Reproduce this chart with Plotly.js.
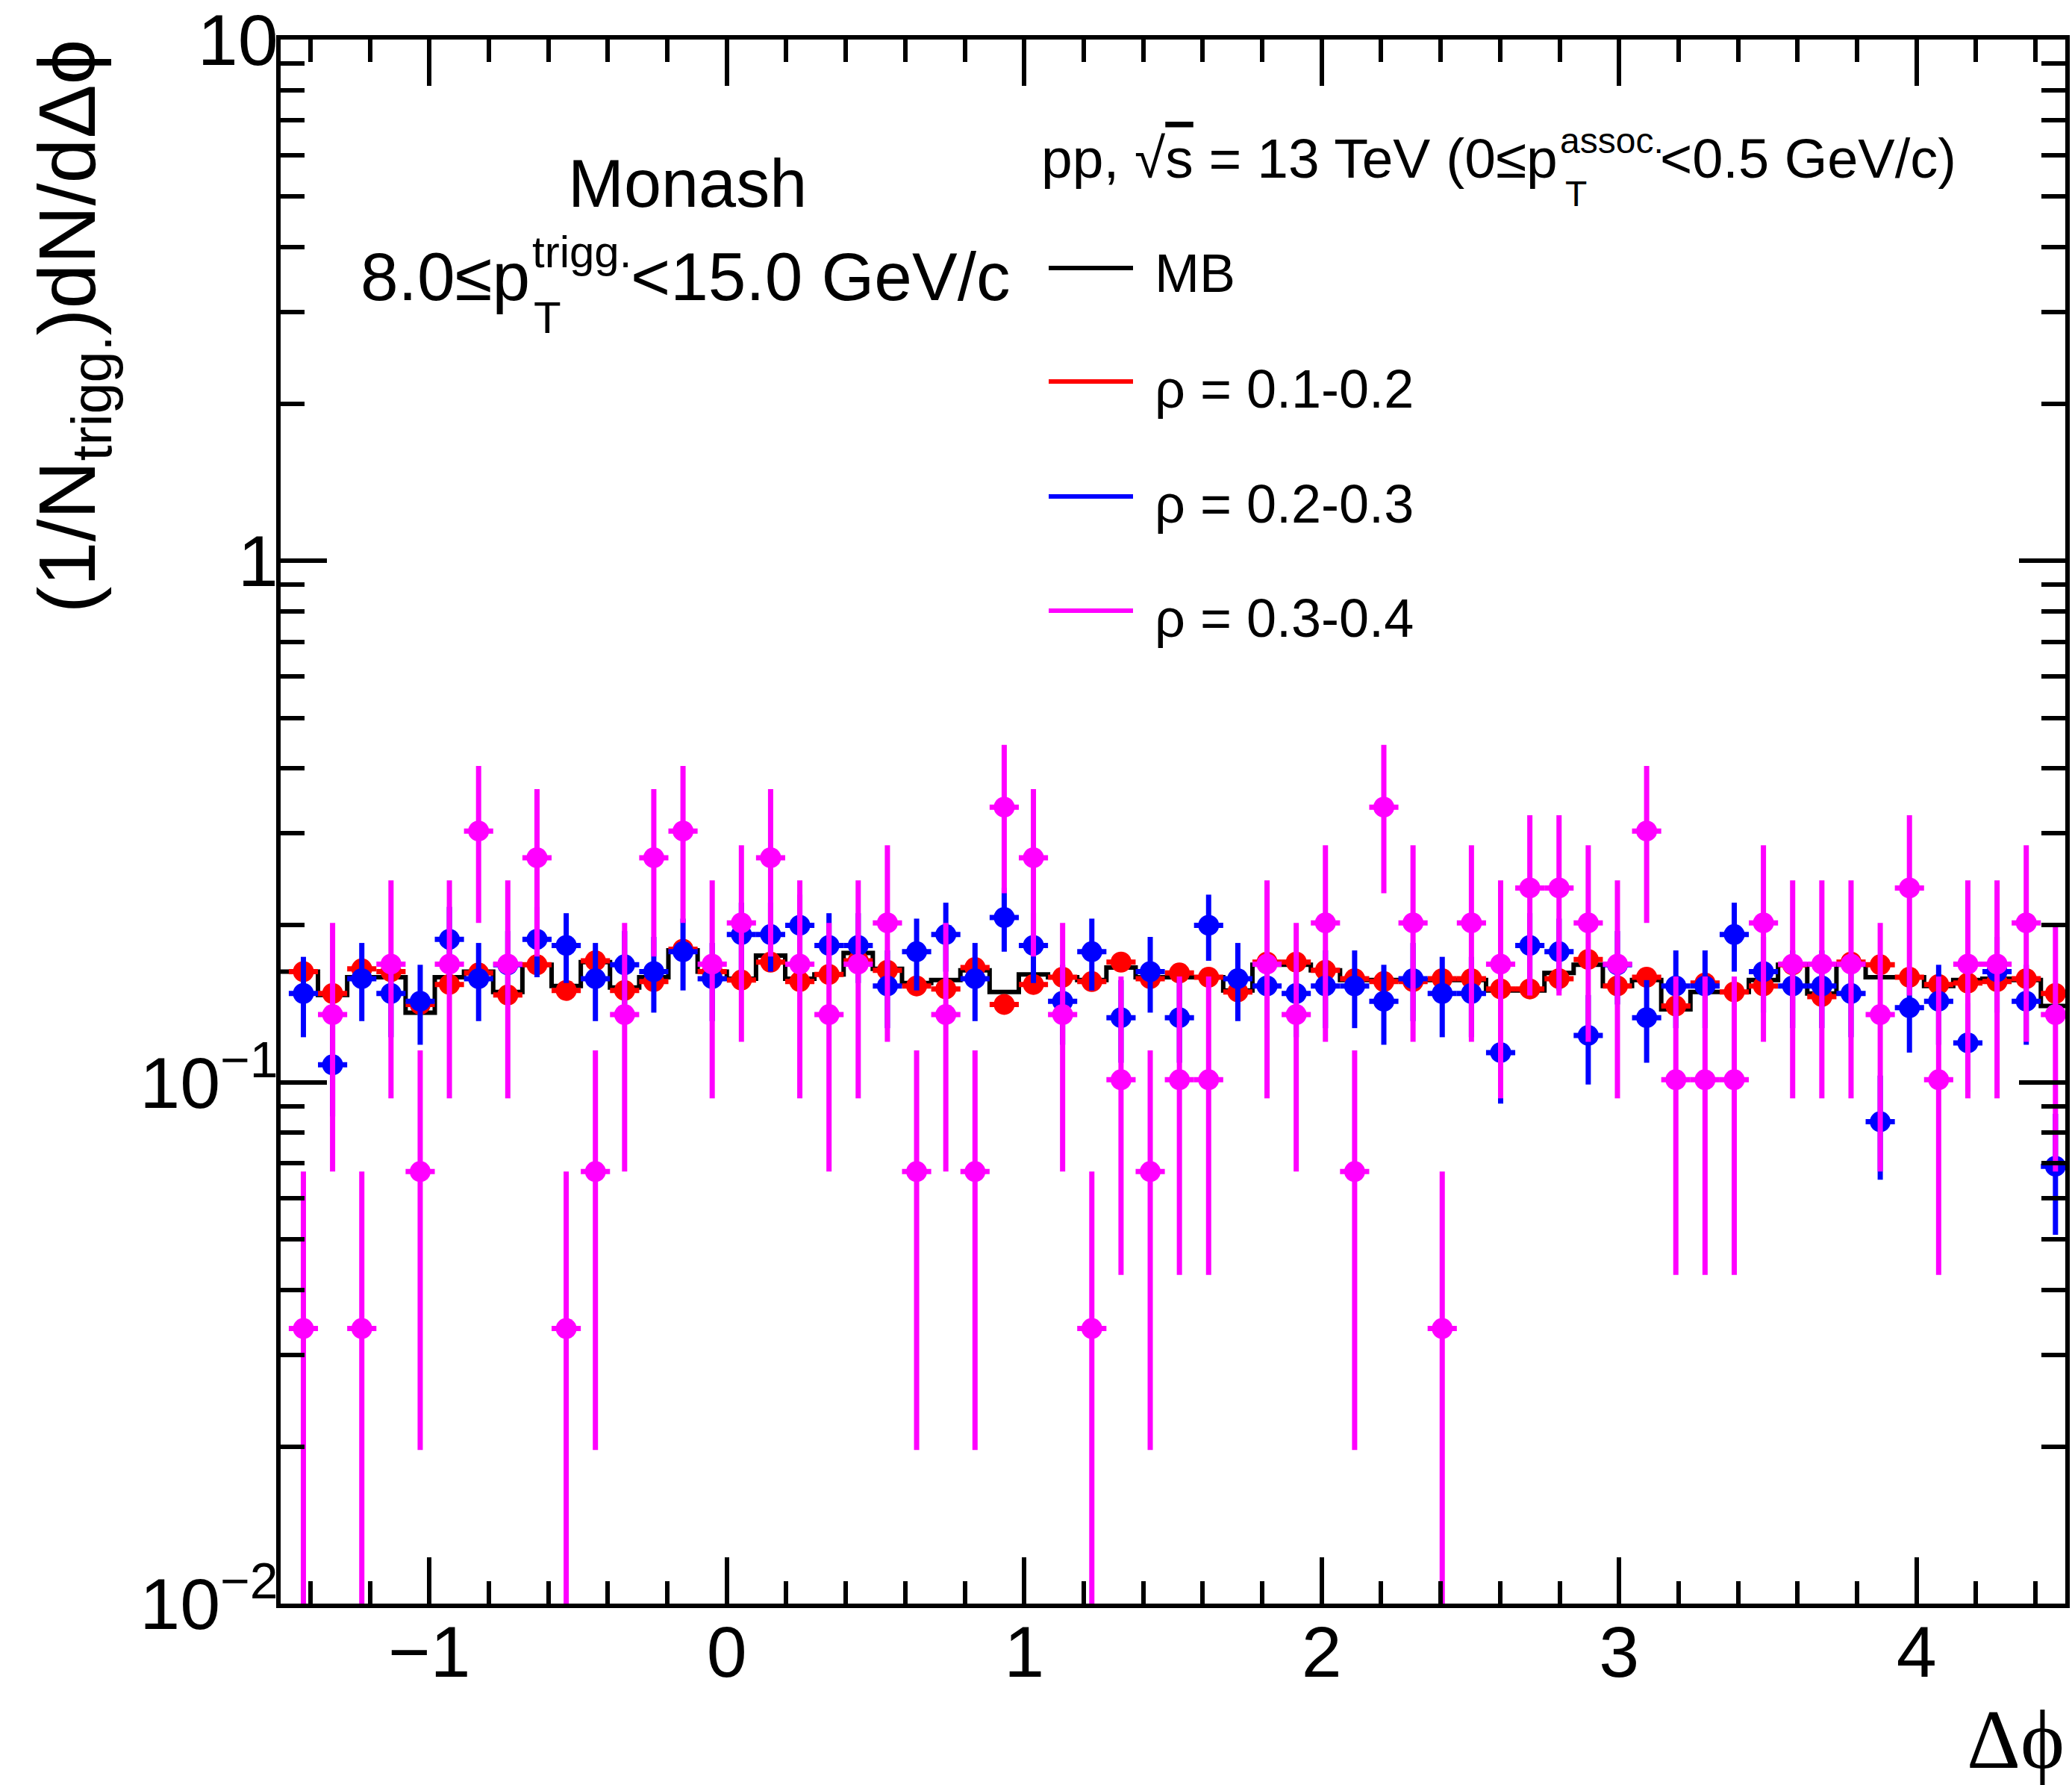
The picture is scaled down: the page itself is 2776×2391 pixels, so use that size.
<!DOCTYPE html>
<html>
<head>
<meta charset="utf-8">
<script src="https://cdn.plot.ly/plotly-3.0.1.min.js"></script>
<style>
html,body{margin:0;padding:0;background:#ffffff;}
#chart{width:2776px;height:2391px;}
</style>
</head>
<body>
<div id="chart"></div>
<script>
// ---------------- binning (64 bins over [-pi/2, 3pi/2]) ----------------
const nBins = 64;
const phiMin = -Math.PI / 2;
const binWidth = 2 * Math.PI / nBins;
const firstVisibleBin = 1;     // point series start at bin 1
const mbFirstBin = 0;          // MB histogram starts at bin 0

// ---------------- data ----------------
// MB histogram, bins 0..61
const mbValues = [
  0.163, 0.163, 0.147, 0.159, 0.159, 0.136, 0.159, 0.163, 0.149, 0.168,
  0.153, 0.170, 0.152, 0.159, 0.179, 0.163, 0.158, 0.175, 0.158, 0.161,
  0.177, 0.165, 0.155, 0.157, 0.164, 0.149, 0.161, 0.159, 0.157, 0.166,
  0.159, 0.159, 0.159, 0.150, 0.168, 0.168, 0.164, 0.157, 0.157, 0.157,
  0.157, 0.157, 0.150, 0.150, 0.162, 0.168, 0.153, 0.157, 0.138, 0.149,
  0.149, 0.157, 0.168, 0.148, 0.168, 0.159, 0.159, 0.153, 0.157, 0.158,
  0.157, 0.140
];

// rho = 0.1-0.2, bins 1..61
const rho12Values = [
  0.163, 0.148, 0.165, 0.163, 0.141, 0.154, 0.162, 0.147, 0.168, 0.150,
  0.171, 0.150, 0.156, 0.180, 0.163, 0.157, 0.170, 0.156, 0.161, 0.171,
  0.164, 0.153, 0.151, 0.166, 0.141, 0.154, 0.159, 0.156, 0.170, 0.158,
  0.162, 0.159, 0.149, 0.170, 0.170, 0.164, 0.158, 0.156, 0.156, 0.158,
  0.158, 0.151, 0.151, 0.158, 0.172, 0.153, 0.159, 0.140, 0.155, 0.149,
  0.153, 0.168, 0.146, 0.170, 0.168, 0.159, 0.154, 0.155, 0.156, 0.158,
  0.148
];
const rho12Errors = [
  0.006, 0.006, 0.006, 0.006, 0.006, 0.006, 0.006, 0.006, 0.006, 0.006,
  0.006, 0.006, 0.006, 0.006, 0.006, 0.006, 0.006, 0.006, 0.006, 0.006,
  0.006, 0.006, 0.006, 0.006, 0.006, 0.006, 0.006, 0.006, 0.006, 0.006,
  0.006, 0.006, 0.006, 0.006, 0.006, 0.006, 0.006, 0.006, 0.006, 0.006,
  0.006, 0.006, 0.006, 0.006, 0.006, 0.006, 0.006, 0.006, 0.006, 0.006,
  0.006, 0.006, 0.006, 0.006, 0.006, 0.006, 0.006, 0.006, 0.006, 0.006,
  0.006
];

// rho = 0.2-0.3, bins 1..61
const rho23Values = [
  0.148, 0.108, 0.158, 0.148, 0.143, 0.188, 0.158, 0.168, 0.188, 0.183,
  0.158, 0.168, 0.163, 0.178, 0.158, 0.192, 0.192, 0.200, 0.183, 0.183,
  0.153, 0.178, 0.192, 0.158, 0.207, 0.183, 0.143, 0.178, 0.133, 0.163,
  0.133, 0.200, 0.158, 0.153, 0.148, 0.153, 0.153, 0.143, 0.158, 0.148,
  0.148, 0.114, 0.183, 0.178, 0.123, 0.168, 0.133, 0.153, 0.153, 0.192,
  0.163, 0.153, 0.153, 0.148, 0.084, 0.139, 0.143, 0.119, 0.163, 0.143,
  0.069
];
const rho23Errors = [
  0.026, 0.022, 0.027, 0.026, 0.025, 0.029, 0.027, 0.027, 0.029, 0.028,
  0.027, 0.027, 0.027, 0.028, 0.027, 0.029, 0.029, 0.029, 0.028, 0.028,
  0.026, 0.028, 0.029, 0.027, 0.029, 0.028, 0.025, 0.028, 0.024, 0.027,
  0.024, 0.029, 0.027, 0.026, 0.026, 0.026, 0.026, 0.025, 0.027, 0.026,
  0.026, 0.023, 0.028, 0.028, 0.024, 0.027, 0.024, 0.026, 0.026, 0.029,
  0.027, 0.026, 0.026, 0.026, 0.019, 0.025, 0.025, 0.023, 0.027, 0.025,
  0.018
];

// rho = 0.3-0.4, bins 1..61 (null = empty bin)
const rho34Values = [
  0.0337, 0.1348, 0.0337, 0.1685, 0.0674, 0.1685, 0.3033, 0.1685, 0.2696, 0.0337,
  0.0674, 0.1348, 0.2696, 0.3033, 0.1685, 0.2022, 0.2696, 0.1685, 0.1348, 0.1685,
  0.2022, 0.0674, 0.1348, 0.0674, 0.3370, 0.2696, 0.1348, 0.0337, 0.1011, 0.0674,
  0.1011, 0.1011, null,   0.1685, 0.1348, 0.2022, 0.0674, 0.3370, 0.2022, 0.0337,
  0.2022, 0.1685, 0.2359, 0.2359, 0.2022, 0.1685, 0.3033, 0.1011, 0.1011, 0.1011,
  0.2022, 0.1685, 0.1685, 0.1685, 0.1348, 0.2359, 0.1011, 0.1685, 0.1685, 0.2022,
  0.1348
];
const rho34Errors = [
  0.0337, 0.0674, 0.0337, 0.0754, 0.0477, 0.0754, 0.1011, 0.0754, 0.0953, 0.0337,
  0.0477, 0.0674, 0.0953, 0.1011, 0.0754, 0.0826, 0.0953, 0.0754, 0.0674, 0.0754,
  0.0826, 0.0477, 0.0674, 0.0477, 0.1066, 0.0953, 0.0674, 0.0337, 0.0584, 0.0477,
  0.0584, 0.0584, null,   0.0754, 0.0674, 0.0826, 0.0477, 0.1066, 0.0826, 0.0337,
  0.0826, 0.0754, 0.0892, 0.0892, 0.0826, 0.0754, 0.1011, 0.0584, 0.0584, 0.0584,
  0.0826, 0.0754, 0.0754, 0.0754, 0.0674, 0.0892, 0.0584, 0.0754, 0.0754, 0.0826,
  0.0674
];

const yTickVals = [0.01, 0.1, 1, 10];
const yTickText = ['10<sup>\u22122</sup>', '10<sup>\u22121</sup>', '1', '10'];
const yMinorVals = [0.02,0.03,0.04,0.05,0.06,0.07,0.08,0.09,
                    0.2,0.3,0.4,0.5,0.6,0.7,0.8,0.9,
                    2,3,4,5,6,7,8,9];

const legendLabels = ['MB', '\u03c1 = 0.1-0.2', '\u03c1 = 0.2-0.3', '\u03c1 = 0.3-0.4'];
const seriesColors = ['#000000', '#ff0000', '#0000ff', '#ff00ff'];

// ---------------- derived bin positions ----------------
function centers(first, n) {
  const c = [];
  for (let k = 0; k < n; k++) c.push(phiMin + (first + k + 0.5) * binWidth);
  return c;
}
const pointX = centers(firstVisibleBin, rho12Values.length);

// step histogram: lower edges + final upper edge
const mbX = [], mbY = [];
for (let k = 0; k < mbValues.length; k++) {
  mbX.push(phiMin + (mbFirstBin + k) * binWidth);
  mbY.push(mbValues[k]);
}
mbX.push(phiMin + (mbFirstBin + mbValues.length) * binWidth);
mbY.push(mbValues[mbValues.length - 1]);

const halfBin = binWidth / 2;
const FONT = 'Liberation Sans, Arial, Helvetica, sans-serif';

function pointTrace(name, y, err, color) {
  return {
    type: 'scatter', mode: 'markers', name: name,
    x: pointX, y: y,
    marker: {symbol: 'circle', size: 28, color: color, line: {width: 0}},
    error_y: {type: 'data', array: err, visible: true, color: color, thickness: 7, width: 0},
    error_x: {type: 'constant', value: halfBin, visible: true, color: color, thickness: 7, width: 0},
    showlegend: false, hoverinfo: 'x+y'
  };
}

const traces = [
  {type: 'scatter', mode: 'lines', name: 'MB', x: mbX, y: mbY,
   line: {shape: 'hv', color: '#000000', width: 6}, showlegend: false},
  pointTrace(legendLabels[1], rho12Values, rho12Errors, seriesColors[1]),
  pointTrace(legendLabels[2], rho23Values, rho23Errors, seriesColors[2]),
  pointTrace(legendLabels[3], rho34Values, rho34Errors, seriesColors[3])
];

// ---------------- layout helpers (pixel -> paper) ----------------
const L = 376, R = 9, T = 53, B = 243, FW = 2776, FH = 2391;
const PW = FW - L - R, PH = FH - T - B;
const fx = px => (px - L) / PW;
const fy = py => 1 - (py - T) / PH;

function txt(text, x, y, size, xanchor, extra) {
  return Object.assign({
    text: text, xref: 'paper', yref: 'paper', x: fx(x), y: fy(y),
    xanchor: xanchor, yanchor: 'middle', showarrow: false,
    font: {family: FONT, size: size, color: '#000000'}
  }, extra || {});
}

const annotations = [
  txt('Monash', 921, 246, 90, 'center'),
  txt('8.0\u2264p', 712, 370, 91, 'right'),
  txt('trigg.', 711, 337, 60, 'left'),
  txt('T', 713, 426, 60, 'left'),
  txt('<15.0 GeV/c', 843, 370, 91, 'left'),
  txt('pp, \u221a<span style="text-decoration:overline">s</span> = 13 TeV (0\u2264p', 1393, 212, 75, 'left'),
  txt('assoc.', 2088, 188, 48, 'left'),
  txt('T', 2095, 259, 48, 'left'),
  txt('<0.5 GeV/c)', 2222, 212, 74, 'left'),
  txt(legendLabels[0], 1545, 366, 72, 'left'),
  txt(legendLabels[1], 1545, 521, 72, 'left'),
  txt(legendLabels[2], 1545, 675, 72, 'left'),
  txt(legendLabels[3], 1545, 828, 72, 'left'),
  // x-axis title
  txt('\u0394\u03d5', 2768, 2330, 112, 'right', {font: {family: 'Liberation Serif, Times New Roman, serif', size: 112, color: '#000'}}),
  // y-axis title
  {text: '(1/N<sub>trigg.</sub>)dN/d\u0394\u03d5', xref: 'paper', yref: 'paper',
   x: fx(97), y: fy(51), xanchor: 'center', yanchor: 'top', textangle: -90,
   showarrow: false, font: {family: FONT, size: 108, color: '#000'}}
];

const legendY = [359, 511, 665, 818];
const shapes = legendY.map((yy, k) => ({
  type: 'line', xref: 'paper', yref: 'paper',
  x0: fx(1405), x1: fx(1518), y0: fy(yy), y1: fy(yy),
  line: {color: seriesColors[k], width: 6}, layer: 'above'
}));

const axisCommon = {
  showline: true, linecolor: '#000', linewidth: 6, mirror: 'allticks',
  ticks: 'inside', ticklen: 62, tickwidth: 6, tickcolor: '#000',
  showgrid: false, zeroline: false, ticklabeloverflow: 'allow',
  tickfont: {family: FONT, size: 97, color: '#000'}
};

const layout = {
  width: FW, height: FH,
  margin: {l: L, r: R, t: T, b: B, pad: 0},
  paper_bgcolor: '#ffffff', plot_bgcolor: '#ffffff',
  showlegend: false,
  xaxis: Object.assign({}, axisCommon, {
    range: [-1.5, 4.5], tickmode: 'linear', tick0: 0, dtick: 1,
    ticklabelstandoff: -24,
    minor: {ticks: 'inside', ticklen: 30, tickwidth: 6, tickcolor: '#000', tick0: 0, dtick: 0.2, showgrid: false}
  }),
  yaxis: Object.assign({}, axisCommon, {
    type: 'log', range: [-2, 1], tickmode: 'array', tickvals: yTickVals, ticktext: yTickText,
    ticklabelstandoff: -22,
    minor: {ticks: 'inside', ticklen: 32, tickwidth: 6, tickcolor: '#000', tickmode: 'array', tickvals: yMinorVals, showgrid: false}
  }),
  annotations: annotations,
  shapes: shapes
};

Plotly.newPlot('chart', traces, layout, {staticPlot: true, displayModeBar: false});
</script>
</body>
</html>
